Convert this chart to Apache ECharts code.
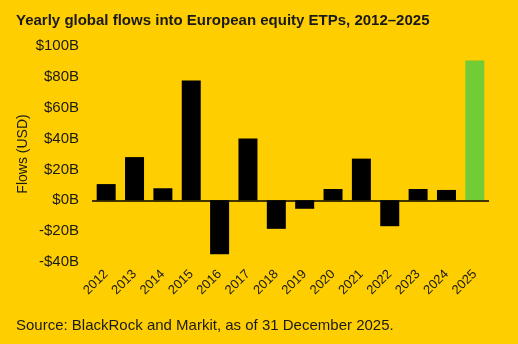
<!DOCTYPE html>
<html><head><meta charset="utf-8">
<script src="https://cdn.jsdelivr.net/npm/echarts@6/dist/echarts.min.js"></script>
<style>html,body{margin:0;padding:0;background:#FFCE00;}#c{width:518px;height:344px;}</style>
</head><body><div id="c"></div>
<script>
var years = ['2012','2013','2014','2015','2016','2017','2018','2019','2020','2021','2022','2023','2024','2025'];
var flows = [10.5, 28, 7.8, 77.7, -35, 40, -18.5, -5.5, 7.3, 27, -16.8, 7.3, 6.7, 90.6];
var highlightYear = '2025';
var yTicks = {min: -40, max: 100, interval: 20};

var chart = echarts.init(document.getElementById('c'), null, {renderer: 'canvas'});
var font = 'Liberation Sans, Arial, sans-serif';
chart.setOption({
  backgroundColor: '#FFCE00',
  animation: false,
  title: {
    text: 'Yearly global flows into European equity ETPs, 2012\u20132025',
    left: 11, top: 8,
    textStyle: {fontFamily: font, fontSize: 15, fontWeight: 'bold', color: '#1a1a1a'}
  },
  graphic: [{
    type: 'text', left: 16, top: 318,
    style: {text: 'Source: BlackRock and Markit, as of 31 December 2025.', fontFamily: font, fontSize: 15, fill: '#1a1a1a'}
  }],
  grid: {left: 92, right: 29, top: 46, bottom: 82},
  xAxis: {
    type: 'category', data: years,
    axisLine: {show: false}, axisTick: {show: false},
    axisLabel: {rotate: 45, margin: 10, fontFamily: font, fontSize: 13, color: '#1a1a1a', interval: 0}
  },
  yAxis: {
    type: 'value', min: yTicks.min, max: yTicks.max, interval: yTicks.interval,
    name: 'Flows (USD)', nameLocation: 'middle', nameGap: 62, nameMoveOverlap: false,
    nameTextStyle: {fontFamily: font, fontSize: 14, color: '#1a1a1a'},
    splitLine: {show: false}, axisLine: {show: false}, axisTick: {show: false},
    axisLabel: {margin: 13, fontFamily: font, fontSize: 15, color: '#1a1a1a',
      formatter: function (v) { return (v < 0 ? '-$' : '$') + Math.abs(v) + 'B'; }}
  },
  series: [{
    type: 'bar', barCategoryGap: '33%',
    data: flows.map(function (v, i) {
      return {value: v, itemStyle: {color: years[i] === highlightYear ? '#72CC35' : '#000000'}};
    }),
    markLine: {
      silent: true, symbol: 'none', label: {show: false},
      lineStyle: {color: '#000', width: 1.5, type: 'solid'},
      data: [{yAxis: 0}]
    }
  }]
});
</script></body></html>
